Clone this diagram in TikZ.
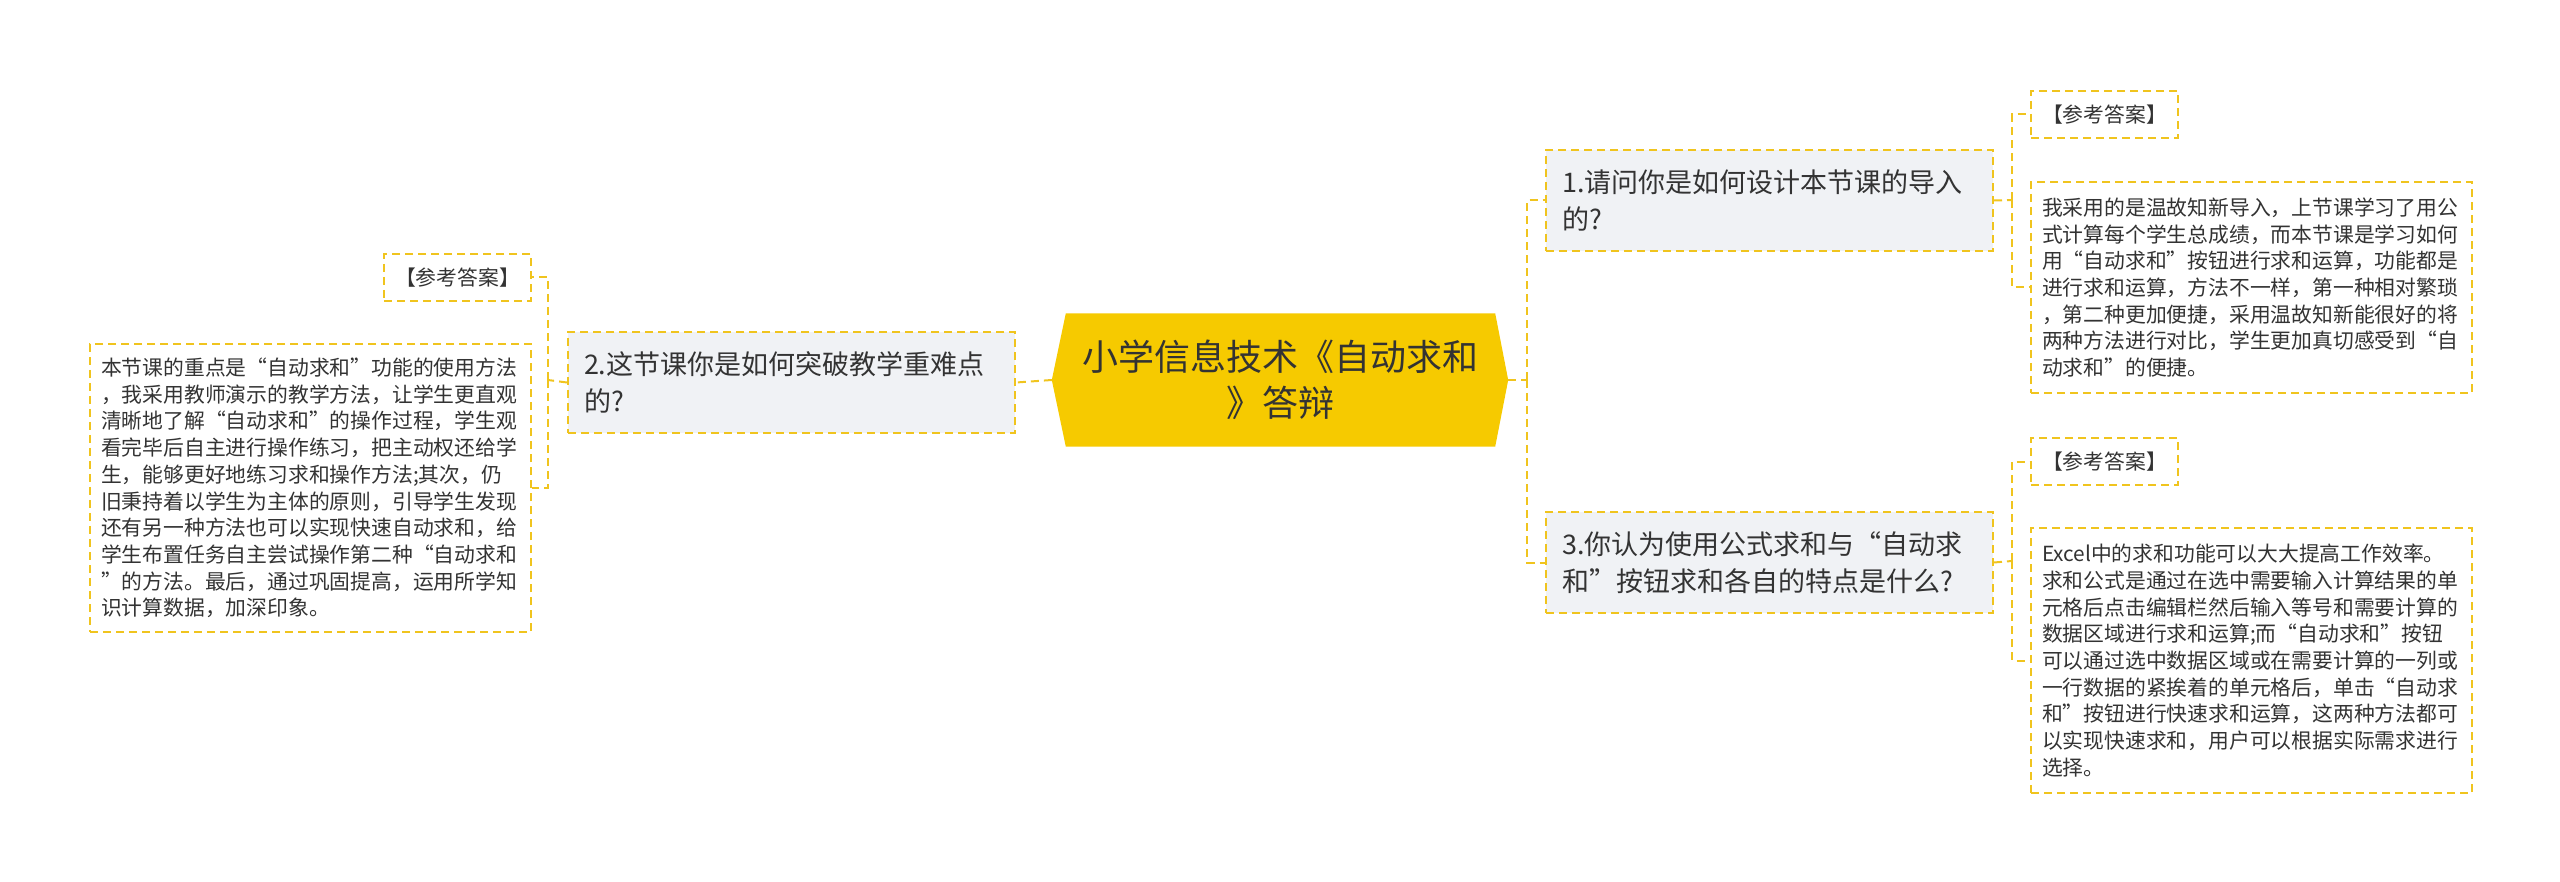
\documentclass[tikz,border=0pt]{standalone}
\usepackage{fontspec}
\setmainfont{Noto Sans CJK SC}
\usetikzlibrary{calc,backgrounds}
\definecolor{gold}{RGB}{246,202,0}
\definecolor{dashc}{RGB}{240,196,30}
\definecolor{boxfill}{RGB}{240,242,245}
\definecolor{txt}{RGB}{51,51,51}
\begin{document}
\begin{tikzpicture}[x=1pt,y=-1pt,
  dsh/.style={draw=dashc, line width=2pt, dash pattern=on 8pt off 5pt},
  link/.style={dsh},
  qbox/.style={dsh, fill=boxfill, anchor=north west, inner xsep=16pt, inner ysep=0pt,
    text width=415pt, align=left, minimum height=101pt, font=\fontsize{27}{37}\selectfont, text=txt},
  abox/.style={dsh, fill=white, anchor=north west, inner xsep=11pt, inner ysep=0pt,
    text width=419pt, align=left, font=\fontsize{20.8}{26.7}\selectfont, text=txt},
  rbox/.style={dsh, fill=white, anchor=north west, inner sep=0pt, minimum width=147pt,
    minimum height=47pt, align=center, font=\fontsize{20.8}{26.7}\selectfont, text=txt},
  ctr/.style={inner sep=0pt, minimum width=456pt, minimum height=133pt, align=center,
    font=\fontsize{36}{46}\selectfont, text=txt}
]
\useasboundingbox (0,0) rectangle (2560,882);

% central
\node[ctr] (c) at (1280,380) {小学信息技术《自动求和\\》答辩};
\begin{pgfonlayer}{background}
\fill[gold] (c.west) -- ($(c.north west)+(14,0)$) -- ($(c.north east)+(-13,0)$) -- (c.east)
  -- ($(c.south east)+(-13,0)$) -- ($(c.south west)+(14,0)$) -- cycle;
\end{pgfonlayer}

% questions
\node[qbox] (n1) at (1545,149) {1.请问你是如何设计本节课的导入\\的?};
\node[qbox] (n2) at (567,331) {2.这节课你是如何突破教学重难点\\的?};
\node[qbox] (n3) at (1545,511) {3.你认为使用公式求和与“自动求\\和”按钮求和各自的特点是什么?};

% reference labels
\node[rbox] (r1) at (2030,90) {【参考答案】};
\node[rbox] (r2) at (383,253) {【参考答案】};
\node[rbox] (r3) at (2030,437) {【参考答案】};

% answers
\node[abox, minimum height=211pt] (a1) at (2030,181) {我采用的是温故知新导入，上节课学习了用公\\式计算每个学生总成绩，而本节课是学习如何\\用“自动求和”按钮进行求和运算，功能都是\\进行求和运算，方法不一样，第一种相对繁琐\\，第二种更加便捷，采用温故知新能很好的将\\两种方法进行对比，学生更加真切感受到“自\\动求和”的便捷。};
\node[abox, minimum height=288pt] (a2) at (89,343) {本节课的重点是“自动求和”功能的使用方法\\，我采用教师演示的教学方法，让学生更直观\\清晰地了解“自动求和”的操作过程，学生观\\看完毕后自主进行操作练习，把主动权还给学\\生，能够更好地练习求和操作方法;其次，仍\\旧秉持着以学生为主体的原则，引导学生发现\\还有另一种方法也可以实现快速自动求和，给\\学生布置任务自主尝试操作第二种“自动求和\\”的方法。最后，通过巩固提高，运用所学知\\识计算数据，加深印象。};
\node[abox, minimum height=265pt] (a3) at (2030,527) {Excel中的求和功能可以大大提高工作效率。\\求和公式是通过在选中需要输入计算结果的单\\元格后点击编辑栏然后输入等号和需要计算的\\数据区域进行求和运算;而“自动求和”按钮\\可以通过选中数据区域或在需要计算的一列或\\一行数据的紧挨着的单元格后，单击“自动求\\和”按钮进行快速求和运算，这两种方法都可\\以实现快速求和，用户可以根据实际需求进行\\选择。};

% connectors
\coordinate (j1) at (1527,380);
\coordinate (j2) at (548,380);
\coordinate (j3) at (2012,200);
\coordinate (j4) at (2012,561);
\draw[link] (c.east) -- (j1);
\draw[link] (j1) |- (n1.west);
\draw[link] (j1) |- (n3.west);
\draw[link] (c.west) -- (n2.east);
\draw[link] (n2.west) -- (j2);
\draw[link] (j2) |- (r2.east);
\draw[link] (j2) |- (a2.east);
\draw[link] (n1.east) -- (j3);
\draw[link] (j3) |- (r1.west);
\draw[link] (j3) |- (a1.west);
\draw[link] (n3.east) -- (j4);
\draw[link] (j4) |- (r3.west);
\draw[link] (j4) |- (a3.west);
\end{tikzpicture}
\end{document}
